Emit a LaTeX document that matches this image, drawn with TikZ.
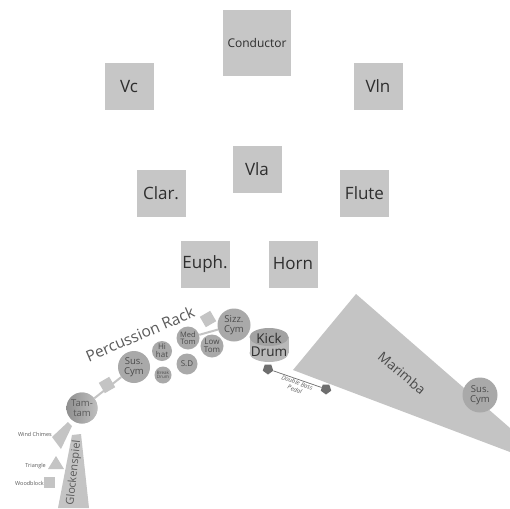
\documentclass[tikz,border=0pt]{standalone}
\usepackage{fontspec}
\setmainfont{Open Sans}
\usetikzlibrary{shapes.geometric}
\definecolor{boxgray}{HTML}{C6C6C6}
\definecolor{circgray}{HTML}{A9A9A9}
\definecolor{lightgray2}{HTML}{C4C4C4}
\definecolor{txt}{HTML}{2E2E2E}
\definecolor{ctxt}{HTML}{4A4A4A}
\definecolor{ltxt}{HTML}{5A5A5A}
\definecolor{pedalgray}{HTML}{6E6E6E}
\definecolor{kicktop}{HTML}{A2A2A2}
\definecolor{kickbody}{HTML}{B9B9B9}
\newcommand{\fs}[1]{\fontsize{#1}{#1}\selectfont}
\begin{document}
\begin{tikzpicture}[x=1pt,y=-1pt,
  seat/.style={fill=boxgray, minimum width=49pt, minimum height=47pt, inner sep=0pt, text=txt, font=\fs{17}},
  drum/.style={circle, fill=circgray, inner sep=0pt, text=ctxt, align=center},
  rackbox/.style={fill=lightgray2, minimum size=12pt, inner sep=0pt, rotate=30},
  link/.style={draw=lightgray2, line width=2pt},
  pedal/.style={regular polygon, regular polygon sides=5, shape border rotate=180, fill=pedalgray, minimum size=11pt, inner sep=0pt},
  smalllabel/.style={text=ltxt, font=\fs{5.5}, inner sep=0pt},
]
\useasboundingbox (0,0) rectangle (510,508);
\fill[white] (0,0) rectangle (510,508);

% seating boxes
\node[seat, minimum width=68pt, minimum height=66pt, font=\fs{12}] (cond) at (257,43) {Conductor};
\node[seat] (vc)  at (129,86.5) {Vc};
\node[seat] (vln) at (378,86.5) {Vln};
\node[seat] (vla) at (257,169) {Vla};
\node[seat] (clar) at (161,193) {Clar.};
\node[seat] (flute) at (364.5,193) {Flute};
\node[seat] (euph) at (205,264) {Euph.};
\node[seat] (horn) at (293,264) {Horn};

% marimba
\fill[lightgray2] (356,294) -- (510,428) -- (510,452) -- (293,370) -- cycle;
\node[rotate=-40, text=ctxt, font=\fs{13.5}] (marimba) at (402,373) {Marimba};
\node[drum, minimum size=35pt, font=\fs{9.5}] (suscymR) at (480,395) {Sus.\\[1pt]Cym};

% pedal
\node[pedal] (pedL) at (268,369) {};
\node[pedal] (pedR) at (326,389) {};
\draw[pedalgray, line width=0.7pt] (pedL) -- (pedR);
\node[rotate=-20, text=ltxt, font=\itshape\fs{6}, align=center, inner sep=0pt] (pedtxt) at (296,386) {Double Bass\\[1pt]Pedal};

% kick drum (cylinder)
\fill[kickbody] (269,353) ellipse [x radius=19.5pt, y radius=9pt];
\fill[kickbody] (249.5,337) rectangle (288.5,353);
\fill[kicktop] (269,337) ellipse [x radius=19.5pt, y radius=9pt];
\node[text=txt, font=\fs{13.5}, align=center, inner sep=0pt] (kick) at (269,345) {Kick\\[0pt]Drum};

% rack links
\node[drum, minimum size=31pt, font=\fs{9.5}, left color=circgray!85!black, right color=circgray!75!white, text=ltxt] (tamtam) at (82,408) {Tam-\\[1pt]tam};
\node[drum, minimum size=32pt, font=\fs{9.5}] (suscymL) at (134,367) {Sus.\\[1pt]Cym};
\draw[link] (tamtam) -- (suscymL);
\node[rackbox] (sq1) at (107,385) {};

\node[drum, minimum size=23pt, font=\fs{7.5}] (medtom) at (188,338) {Med\\[0pt]Tom};
\node[drum, minimum size=33pt, font=\fs{9.5}] (sizz) at (234,325) {Sizz.\\[1pt]Cym};
\draw[link] (medtom) -- (sizz);
\node[rackbox] (sq2) at (208,319) {};
\node[drum, minimum size=23pt, font=\fs{8}] (lowtom) at (212,346) {Low\\[0pt]Tom};
\node[drum, minimum size=17pt, font=\fs{4.5}] (break) at (163,375) {Break\\[-1pt]Drum};
\node[drum, minimum size=20pt, font=\fs{8}] (hihat) at (162,351) {Hi\\[0pt]hat};
\node[drum, minimum size=21pt, font=\fs{8}] (sd) at (187,364) {S.D};

\node[rotate=23, text=ltxt, font=\fs{15.5}, inner sep=0pt] (rack) at (140,334) {Percussion Rack};

% left instruments
\fill[lightgray2] (52,437) -- (68,422) -- (72,426) -- (61,449) -- cycle;
\node[smalllabel, anchor=east] (chimes) at (52,434) {Wind Chimes};
\fill[lightgray2] (48,469) -- (56,456) -- (64,469) -- cycle;
\node[smalllabel, anchor=east] (tri) at (46,466) {Triangle};
\fill[lightgray2] (44,477) rectangle (55,488);
\node[smalllabel, anchor=east] (wood) at (44,483) {Woodblock};
\fill[lightgray2] (72,435) -- (81,434) -- (89,508) -- (58,508) -- cycle;
\node[rotate=84, text=ltxt, font=\fs{11}, inner sep=0pt] (glock) at (74,473) {Glockenspiel};
\end{tikzpicture}
\end{document}
